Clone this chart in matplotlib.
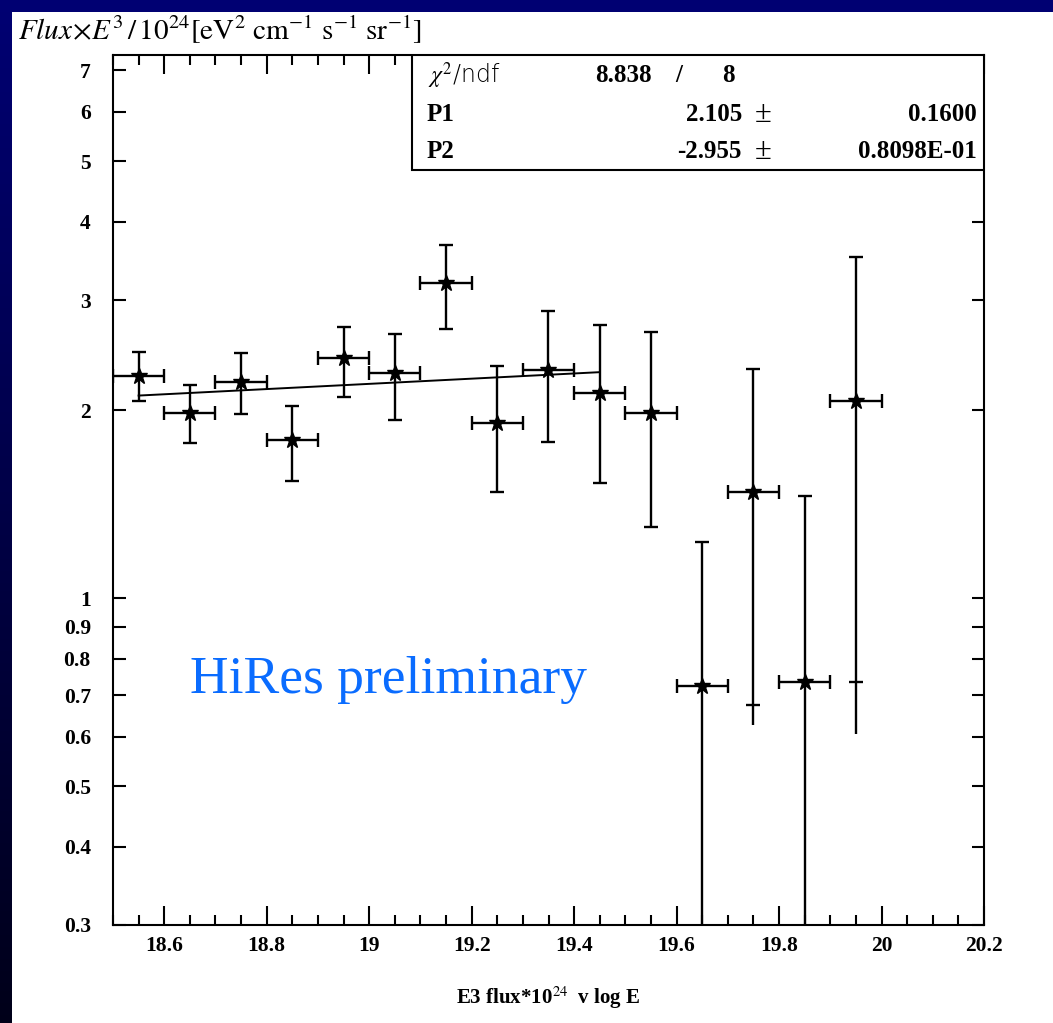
import numpy as np
import matplotlib
matplotlib.use('Agg')
import matplotlib.pyplot as plt
from matplotlib.patches import Rectangle

plt.rcParams['mathtext.fontset'] = 'stix'

# bin centres in log E and flux*E^3/1e24
logE = [18.55, 18.65, 18.75, 18.85, 18.95, 19.05, 19.15, 19.25,
        19.35, 19.45, 19.55, 19.65, 19.75, 19.85, 19.95]
flux = [2.27, 1.98, 2.22, 1.79, 2.42, 2.29, 3.20, 1.91,
        2.32, 2.13, 1.98, 0.724, 1.48, 0.735, 2.07]
flux_hi = [2.48, 2.19, 2.47, 2.03, 2.72, 2.65, 3.68, 2.35,
           2.88, 2.74, 2.67, 1.23, 2.33, 1.46, 3.52]
flux_lo = [2.07, 1.77, 1.97, 1.54, 2.10, 1.93, 2.70, 1.48,
           1.78, 1.53, 1.30, 0.20, 0.676, 0.20, 0.734]
half_bin = 0.05

# two points whose lower line runs on past the cap
tail_x = [19.75, 19.95]
tail_top = [0.676, 0.734]
tail_bot = [0.626, 0.606]

# fitted power law end points (straight on log y)
fit_x = [18.55, 19.45]
fit_y = [2.11, 2.30]

# fit box
chi2_ndf = ('8.838', '8')
par_names = ['P1', 'P2']
par_vals = ['2.105', '-2.955']
par_errs = ['0.1600', '0.8098E-01']

xticks = [18.6, 18.8, 19.0, 19.2, 19.4, 19.6, 19.8, 20.0, 20.2]
xticklabels = ['18.6', '18.8', '19', '19.2', '19.4', '19.6', '19.8', '20', '20.2']
yticks = [0.3, 0.4, 0.5, 0.6, 0.7, 0.8, 0.9, 1, 2, 3, 4, 5, 6, 7]
yticklabels = ['0.3', '0.4', '0.5', '0.6', '0.7', '0.8', '0.9', '1',
               '2', '3', '4', '5', '6', '7']

W, H = 1053, 1023
fig = plt.figure(figsize=(W/100, H/100), dpi=100)

# slide background: blue gradient, white panel
bg = fig.add_axes([0, 0, 1, 1], zorder=-10)
grad = np.linspace(0, 1, 256).reshape(-1, 1)
cols = np.zeros((256, 1, 3))
cols[:, 0, 2] = 0.45 - 0.35*grad[:, 0]
bg.imshow(cols, aspect='auto', extent=[0, 1, 0, 1], origin='upper')
bg.add_patch(Rectangle((12/W, 0), 1, 1 - 12/H, facecolor='white', edgecolor='none'))
bg.set_xlim(0, 1)
bg.set_ylim(0, 1)
bg.axis('off')

ax = fig.add_axes([113/W, (H-925)/H, 871/W, 870/H])
ax.set_yscale('log')

yerr = [np.array(flux) - np.array(flux_lo), np.array(flux_hi) - np.array(flux)]
ax.errorbar(logE, flux, xerr=half_bin, yerr=yerr, fmt='*', color='k',
            ms=12, capsize=5, elinewidth=1.7, capthick=1.7, zorder=3)
ax.vlines(tail_x, tail_bot, tail_top, color='k', lw=1.7, zorder=3)
ax.plot(fit_x, fit_y, '-k', lw=1.4, zorder=2)

ax.set_xlim(18.5, 20.2)
ax.set_ylim(0.3, 7.4)

ax.set_xticks(xticks)
ax.set_xticklabels(xticklabels)
ax.set_xticks(np.arange(18.5, 20.21, 0.05), minor=True)
ax.set_yticks(yticks)
ax.set_yticklabels(yticklabels)
ax.yaxis.set_minor_locator(matplotlib.ticker.NullLocator())

ax.tick_params(axis='both', which='both', direction='in', top=True, right=True,
               width=1.5, color='k')
ax.tick_params(axis='x', which='major', length=14, pad=8)
ax.tick_params(axis='x', which='minor', length=7)
ax.tick_params(axis='y', which='major', length=9, pad=16)
for lab in ax.get_xticklabels() + ax.get_yticklabels():
    lab.set_family('Liberation Serif')
    lab.set_fontweight('bold')
    lab.set_fontsize(15.5)
for s in ax.spines.values():
    s.set_linewidth(1.5)

ax.set_xlabel(r'E3 flux*10$^{24}$  v log E', family='Liberation Serif',
              fontweight='bold', fontsize=15, labelpad=20)

# fit statistics box in upper right
ax.add_patch(Rectangle((0.343, 0.868), 0.657, 0.132, transform=ax.transAxes,
                       facecolor='white', edgecolor='k', lw=1.5, zorder=4))
tkw = dict(transform=ax.transAxes, va='center', zorder=5)
ax.text(0.362, 0.976, r'$\chi^2$/ndf', family='DejaVu Sans', fontsize=17,
        fontweight='light', **tkw)
ax.text(0.618, 0.976, chi2_ndf[0], ha='right', family='Liberation Serif',
        fontweight='bold', fontsize=18, **tkw)
ax.text(0.650, 0.976, '/', ha='center', family='Liberation Serif',
        fontweight='bold', fontsize=18, **tkw)
ax.text(0.707, 0.976, chi2_ndf[1], ha='center', family='Liberation Serif',
        fontweight='bold', fontsize=18, **tkw)
for i, (nm, v, e) in enumerate(zip(par_names, par_vals, par_errs)):
    yy = 0.932 - i*0.043
    ax.text(0.360, yy, nm, ha='left', family='Liberation Serif',
            fontweight='bold', fontsize=18, **tkw)
    ax.text(0.722, yy, v, ha='right', family='Liberation Serif',
            fontweight='bold', fontsize=18, **tkw)
    ax.text(0.746, yy, '\u00b1', ha='center', family='Liberation Serif',
            fontsize=22, **tkw)
    ax.text(0.992, yy, e, ha='right', family='Liberation Serif',
            fontweight='bold', fontsize=18, **tkw)

ax.text((190-113)/871, (925-693)/870, 'HiRes preliminary', color='#0a6cff',
        family='Liberation Serif', fontsize=38.5, transform=ax.transAxes,
        va='baseline', ha='left')

fig.text(18/W, 1 - 30/H,
         r'$\mathit{Flux}\!\times\! E^3\,/\,10^{24}\left[\mathrm{eV}^2\ \mathrm{cm}^{-1}\ \mathrm{s}^{-1}\ \mathrm{sr}^{-1}\right]$',
         fontsize=21, va='center', ha='left')

fig.savefig('out.png', dpi=100)
